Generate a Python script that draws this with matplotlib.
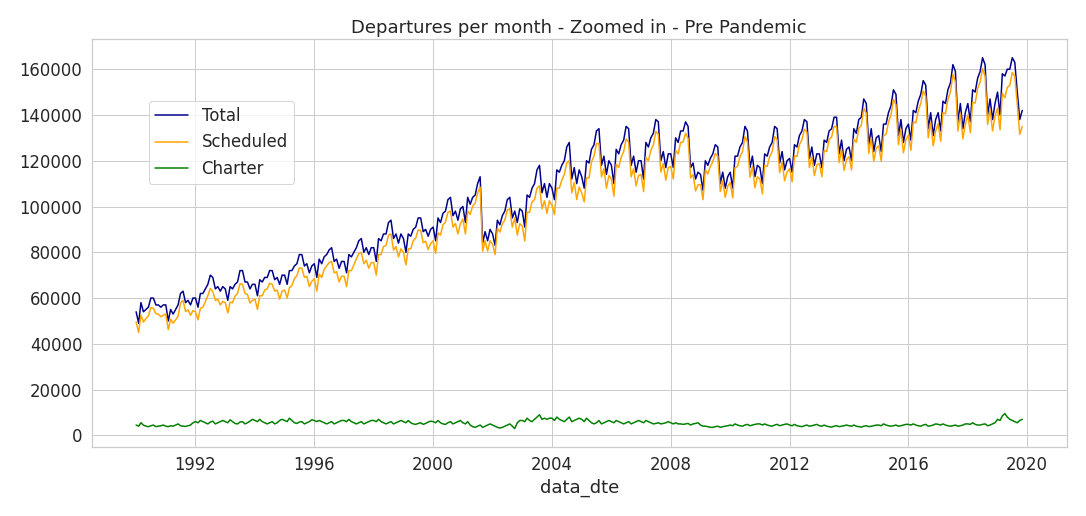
import numpy as np
import pandas as pd
import matplotlib
matplotlib.use("Agg")
import matplotlib.pyplot as plt
import seaborn as sns

# monthly totals in thousands, one row per year 1990..2019 (2019 ends in November)
total_k = [
    [54, 49, 58, 54, 55, 56, 60, 60, 57, 57, 56, 57],
    [57, 50, 55, 53, 55, 57, 62, 63, 58, 59, 57, 60],
    [60, 56, 62, 62, 64, 66, 70, 69, 64, 65, 63, 65],
    [64, 59, 65, 64, 66, 67, 72, 72, 67, 67, 64, 66],
    [66, 61, 68, 67, 69, 69, 72, 72, 68, 69, 66, 70],
    [70, 66, 72, 72, 74, 75, 79, 79, 74, 75, 71, 74],
    [75, 69, 77, 75, 78, 79, 81, 82, 76, 77, 73, 76],
    [76, 71, 79, 78, 80, 82, 85, 86, 80, 82, 79, 82],
    [82, 76, 86, 85, 88, 88, 93, 94, 86, 88, 84, 88],
    [86, 80, 88, 87, 90, 91, 95, 95, 89, 90, 87, 90],
    [91, 85, 95, 93, 97, 98, 103, 104, 96, 98, 94, 99],
    [100, 93, 104, 101, 104, 105, 110, 113, 84, 89, 85, 90],
    [88, 83, 94, 92, 96, 98, 103, 104, 95, 98, 93, 99],
    [98, 91, 105, 104, 108, 110, 116, 118, 106, 110, 104, 110],
    [108, 103, 116, 115, 118, 120, 126, 128, 112, 117, 110, 116],
    [113, 108, 120, 119, 125, 127, 133, 134, 118, 122, 114, 120],
    [118, 110, 125, 123, 127, 129, 135, 134, 118, 122, 115, 120],
    [120, 112, 128, 126, 130, 132, 138, 137, 120, 124, 117, 123],
    [123, 117, 130, 128, 133, 133, 137, 135, 117, 119, 112, 115],
    [114, 107, 120, 118, 121, 123, 127, 126, 110, 115, 108, 113],
    [115, 108, 122, 122, 126, 128, 135, 133, 117, 122, 113, 118],
    [117, 110, 123, 122, 126, 128, 135, 134, 119, 124, 116, 120],
    [121, 115, 127, 126, 131, 133, 138, 137, 121, 126, 118, 123],
    [123, 117, 129, 128, 133, 134, 139, 139, 123, 129, 120, 125],
    [126, 120, 134, 132, 138, 139, 147, 145, 127, 134, 124, 130],
    [131, 124, 136, 136, 141, 144, 151, 149, 131, 138, 128, 134],
    [136, 129, 142, 141, 146, 149, 155, 153, 134, 141, 131, 138],
    [141, 133, 146, 145, 151, 154, 162, 159, 137, 145, 134, 141],
    [145, 137, 151, 150, 156, 159, 165, 162, 140, 147, 138, 145],
    [150, 140, 158, 157, 160, 160, 165, 163, 150, 138, 142, 137],
]

# monthly charter departures in thousands
charter_k = [
    [4.5, 4.0, 5.5, 4.5, 4.0, 3.8, 4.2, 4.5, 3.8, 4.0, 4.2, 4.5],
    [4.0, 3.8, 4.2, 4.0, 4.5, 5.0, 4.2, 4.0, 3.9, 4.2, 4.5, 5.5],
    [6.0, 5.5, 6.5, 6.0, 5.5, 5.0, 5.8, 6.2, 5.0, 5.5, 6.0, 6.5],
    [6.0, 5.5, 6.8, 6.0, 5.2, 5.0, 5.8, 6.0, 5.0, 5.5, 6.2, 7.0],
    [6.5, 6.0, 7.0, 6.0, 5.5, 5.0, 5.5, 6.0, 5.0, 5.5, 6.5, 7.0],
    [6.5, 6.0, 7.5, 6.5, 5.5, 5.2, 5.8, 6.0, 5.0, 5.5, 6.0, 6.8],
    [6.5, 6.0, 6.5, 6.0, 5.5, 5.0, 5.5, 6.0, 5.0, 5.5, 6.0, 6.5],
    [6.5, 6.0, 7.0, 6.0, 5.5, 5.0, 5.5, 6.0, 5.0, 5.5, 6.0, 6.5],
    [6.5, 6.0, 7.0, 6.0, 5.5, 5.0, 5.5, 6.0, 5.0, 5.5, 6.0, 6.5],
    [6.0, 5.5, 6.5, 5.5, 5.0, 4.8, 5.2, 5.5, 4.8, 5.2, 5.8, 6.2],
    [6.0, 5.5, 6.5, 5.5, 5.0, 4.8, 5.5, 6.0, 5.0, 5.5, 6.0, 6.5],
    [5.5, 5.0, 6.0, 4.5, 3.8, 3.5, 4.0, 4.5, 3.5, 4.0, 4.5, 5.0],
    [4.5, 4.0, 3.5, 3.2, 3.5, 4.0, 4.5, 5.0, 4.0, 3.0, 5.5, 6.5],
    [6.5, 6.0, 7.5, 6.5, 6.0, 7.0, 8.0, 9.0, 7.0, 7.5, 7.0, 7.5],
    [7.5, 6.5, 8.0, 7.0, 6.5, 6.0, 7.0, 8.0, 6.0, 6.5, 7.0, 7.5],
    [7.0, 6.0, 7.5, 6.5, 5.5, 5.0, 5.5, 6.5, 5.0, 5.5, 6.0, 6.5],
    [6.0, 5.5, 6.5, 6.0, 5.5, 5.0, 5.5, 6.0, 5.0, 5.5, 6.0, 6.5],
    [6.0, 5.5, 6.5, 6.0, 5.5, 5.0, 5.2, 5.5, 5.0, 5.2, 5.5, 6.0],
    [5.5, 5.0, 5.5, 5.0, 5.0, 4.8, 5.0, 5.2, 4.5, 5.0, 5.2, 5.5],
    [4.5, 4.0, 4.0, 3.8, 3.5, 3.5, 3.8, 4.0, 3.5, 3.8, 4.0, 4.2],
    [4.5, 4.2, 5.0, 4.5, 4.2, 4.0, 4.5, 4.8, 4.2, 4.5, 4.8, 5.0],
    [5.0, 4.5, 5.0, 4.5, 4.2, 4.0, 4.5, 4.8, 4.2, 4.5, 4.8, 5.0],
    [4.5, 4.2, 4.8, 4.2, 4.0, 3.8, 4.2, 4.5, 4.0, 4.2, 4.5, 4.8],
    [4.2, 4.0, 4.5, 4.0, 3.8, 3.6, 4.0, 4.2, 3.8, 4.0, 4.2, 4.5],
    [4.2, 4.0, 4.5, 4.0, 3.8, 3.6, 4.0, 4.2, 3.8, 4.0, 4.2, 4.5],
    [4.5, 4.2, 5.0, 4.5, 4.2, 4.0, 4.2, 4.5, 4.0, 4.2, 4.5, 4.8],
    [4.8, 4.5, 5.0, 4.5, 4.2, 4.0, 4.5, 4.8, 4.0, 4.2, 4.5, 5.0],
    [4.8, 4.5, 5.0, 4.5, 4.2, 4.0, 4.2, 4.5, 4.0, 4.2, 4.5, 5.0],
    [5.0, 4.8, 5.5, 4.8, 4.5, 4.5, 4.8, 5.0, 4.2, 4.5, 5.0, 5.5],
    [7.0, 6.5, 8.5, 9.5, 8.0, 7.0, 6.5, 6.0, 5.5, 6.5, 7.0, 8.0],
]

dates = pd.date_range("1990-01-01", "2019-11-01", freq="MS")
n = len(dates)
total = np.array(total_k, dtype=float).ravel()[:n] * 1000
charter = np.array(charter_k, dtype=float).ravel()[:n] * 1000
scheduled = total - charter

sns.set_theme(style="whitegrid", font_scale=1.5)
fig, ax = plt.subplots(figsize=(1086 / 72, 516 / 72), dpi=72)
ax.plot(dates, total, color="darkblue", label="Total")
ax.plot(dates, scheduled, color="orange", label="Scheduled")
ax.plot(dates, charter, color="green", label="Charter")
ax.set_title("Departures per month - Zoomed in - Pre Pandemic")
ax.set_xlabel("data_dte")
ax.set_ylim(-5000, 173000)
ax.set_yticks(range(0, 160001, 20000))
ax.legend(loc="upper left", bbox_to_anchor=(0.05, 0.87))
plt.tight_layout()
fig.savefig("out.png", dpi=72)
